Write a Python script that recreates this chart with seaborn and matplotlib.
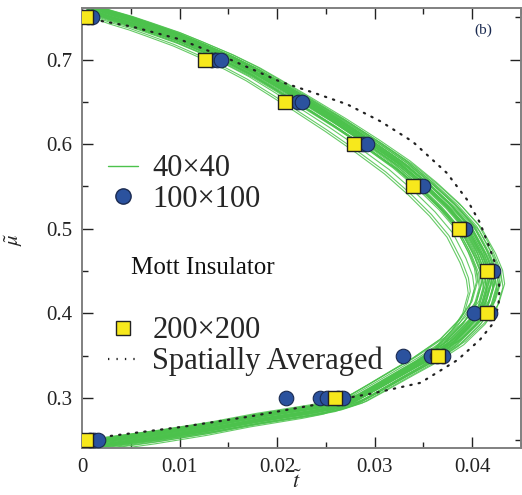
import matplotlib
matplotlib.use("Agg")
import matplotlib.pyplot as plt
from matplotlib.lines import Line2D
from matplotlib.ticker import MultipleLocator
import pandas as pd
import seaborn as sns

# ---- data -------------------------------------------------------------
# 200x200 lattice: one point per chemical potential
mu_200 = [0.25, 0.30, 0.35, 0.40, 0.45, 0.50, 0.55, 0.60, 0.65, 0.70, 0.75]
t_200 = [0.0004, 0.0259, 0.0365, 0.0415, 0.0415, 0.0387, 0.0339, 0.0279,
         0.0208, 0.0126, 0.0004]

# 100x100 lattice: several disorder realizations per chemical potential
mu_100 = [0.25, 0.25, 0.25,
          0.30, 0.30, 0.30, 0.30, 0.30,
          0.35, 0.35, 0.35, 0.35,
          0.40, 0.40,
          0.45, 0.45,
          0.50, 0.50,
          0.55, 0.55,
          0.60, 0.60,
          0.65, 0.65,
          0.70, 0.70, 0.70,
          0.75, 0.75]
t_100 = [0.0008, 0.0012, 0.0016,
         0.0209, 0.0244, 0.0251, 0.0262, 0.0268,
         0.0329, 0.0358, 0.0364, 0.0370,
         0.0402, 0.0418,
         0.0418, 0.0421,
         0.0390, 0.0393,
         0.0346, 0.0350,
         0.0288, 0.0292,
         0.0221, 0.0226,
         0.0133, 0.0138, 0.0143,
         0.0006, 0.0010]

# 40x40 lattice: typical phase boundary and per-realization spread
mu_40 = [0.238, 0.247, 0.256, 0.266, 0.276, 0.286, 0.291, 0.299, 0.312,
         0.330, 0.343, 0.366, 0.390, 0.410, 0.434, 0.450, 0.470, 0.500,
         0.525, 0.550, 0.575, 0.600, 0.625, 0.650, 0.668, 0.685, 0.700,
         0.715, 0.726, 0.738, 0.745, 0.752, 0.758, 0.765]
t_40 = [0.0000, 0.0021, 0.0080, 0.0136, 0.0183, 0.0239, 0.0262, 0.0283,
        0.0303, 0.0330, 0.0350, 0.0380, 0.0401, 0.0413, 0.0419, 0.0417,
        0.0410, 0.0396, 0.0377, 0.0354, 0.0328, 0.0297, 0.0264, 0.0229,
        0.0203, 0.0178, 0.0152, 0.0122, 0.0099, 0.0069, 0.0051, 0.0030,
        0.0015, 0.0005]
t_scale_40 = [0.960, 0.965, 0.968, 0.972, 0.975, 0.978, 0.980, 0.982,
              0.984, 0.986, 0.988, 0.990, 0.991, 0.993, 0.994, 0.996,
              0.997, 0.999, 1.000, 1.002, 1.003, 1.005, 1.006, 1.008,
              1.009, 1.011, 1.012, 1.014, 1.015, 1.018, 1.020, 1.022,
              1.026, 1.030, 1.034, 0.950, 0.945, 0.990]
mu_shift_40 = [-0.005, 0.003, 0.004, -0.003, -0.002, 0.001, 0.006, -0.004,
               -0.004, 0.005, 0.002, -0.001, -0.006, 0.003, 0.001, -0.002,
               0.005, 0.000, -0.001, 0.004, 0.003, -0.005, -0.003, 0.002,
               0.000, 0.006, 0.004, -0.002, -0.005, 0.002, -0.002, 0.003,
               0.005, -0.003, 0.001, -0.008, -0.010, -0.007]

# Spatially averaged boundary
t_avg = [0.0004, 0.0021, 0.0103, 0.0171, 0.0239, 0.0262, 0.0300, 0.0347,
         0.0385, 0.0408, 0.0422, 0.0427, 0.0428, 0.0426, 0.0418, 0.0408,
         0.0395, 0.0374, 0.0339, 0.0306, 0.0272, 0.0237, 0.0203, 0.0152,
         0.0100, 0.0051, 0.0013, 0.0004]
mu_avg = [0.250, 0.254, 0.266, 0.278, 0.292, 0.298, 0.306, 0.318,
          0.345, 0.369, 0.389, 0.410, 0.430, 0.451, 0.477, 0.507,
          0.534, 0.566, 0.603, 0.627, 0.647, 0.661, 0.674, 0.700,
          0.724, 0.739, 0.747, 0.750]

# ---- tables -----------------------------------------------------------
rows = []
for k, (s, d) in enumerate(zip(t_scale_40, mu_shift_40)):
    for m, t in zip(mu_40, t_40):
        rows.append({"realization": k, "t": t * s, "mu": m + d})
df40 = pd.DataFrame(rows)
df100 = pd.DataFrame({"t": t_100, "mu": mu_100})
df200 = pd.DataFrame({"t": t_200, "mu": mu_200})
dfavg = pd.DataFrame({"t": t_avg, "mu": mu_avg})

# ---- style ------------------------------------------------------------
sns.set_style("ticks")
plt.rcParams["font.family"] = ["Liberation Serif", "DejaVu Serif"]
plt.rcParams["mathtext.fontset"] = "stix"

green = "#4cc24c"
blue = "#2b529e"
yellow = "#f7e81c"
dots = (0, (0.6, 3.2))

fig = plt.figure(figsize=(5.22, 4.95), dpi=100)
ax = fig.add_axes([0.157, 0.095, 0.841, 0.889])

sns.lineplot(data=df40, x="t", y="mu", units="realization", estimator=None,
             sort=False, color=green, lw=0.8, alpha=0.85, ax=ax, legend=False)
sns.lineplot(data=dfavg, x="t", y="mu", estimator=None, sort=False,
             color="#222222", lw=1.6, ls=dots, dash_capstyle="round",
             ax=ax, legend=False)
sns.scatterplot(data=df100, x="t", y="mu", marker="o", s=110, color=blue,
                edgecolor="#1a2a50", linewidth=0.8, ax=ax, zorder=4,
                legend=False)
sns.scatterplot(data=df200, x="t", y="mu", marker="s", s=95, color=yellow,
                edgecolor="#222222", linewidth=1.0, ax=ax, zorder=5,
                legend=False)

ax.set_xlim(0, 0.045)
ax.set_ylim(0.241, 0.761)
ax.xaxis.set_minor_locator(MultipleLocator(0.005))
ax.yaxis.set_minor_locator(MultipleLocator(0.05))
ax.set_xticks([0, 0.01, 0.02, 0.03, 0.04])
ax.set_xticklabels(["0", "0.01", "0.02", "0.03", "0.04"])
ax.set_yticks([0.3, 0.4, 0.5, 0.6, 0.7])
ax.set_yticklabels(["0.3", "0.4", "0.5", "0.6", "0.7"])
ax.tick_params(which="both", direction="in", top=True, right=True,
               colors="#222222", labelsize=15, width=1.0)
ax.tick_params(which="major", length=8, pad=7)
ax.tick_params(which="minor", length=4.5)
for sp in ax.spines.values():
    sp.set_color("#808080")
    sp.set_linewidth(1.4)

ax.set_xlabel(r"$\tilde{t}$", fontsize=16)
ax.xaxis.set_label_coords(0.49, -0.052)
ax.set_ylabel(r"$\tilde{\mu}$", fontsize=15)
ax.yaxis.set_label_coords(-0.13, 0.473)

leg_kw = dict(frameon=False, fontsize=22, handlelength=1.0,
              handletextpad=0.46, labelspacing=0.05, borderaxespad=0,
              borderpad=0)
h1 = [Line2D([], [], color=green, lw=1.0),
      Line2D([], [], ls="none", marker="o", ms=11, mfc=blue, mec="#1a2a50")]
leg1 = ax.legend(h1, ["40×40", "100×100"], loc="upper left",
                 bbox_to_anchor=(0.059, 0.667), **leg_kw)
ax.add_artist(leg1)
h2 = [Line2D([], [], ls="none", marker="s", ms=9.5, mfc=yellow, mec="#222222"),
      Line2D([], [], color="#222222", lw=1.6, ls=dots)]
ax.legend(h2, ["200×200", "Spatially Averaged"], loc="upper left",
          bbox_to_anchor=(0.059, 0.299), **leg_kw)

ax.text(0.112, 0.41, "Mott Insulator", transform=ax.transAxes,
        fontsize=18, va="center", ha="left", color="#111111")
ax.text(0.915, 0.95, "(b)", transform=ax.transAxes, fontsize=11,
        va="center", ha="center", color="#1a2a50")

fig.savefig("out.png", dpi=100)
